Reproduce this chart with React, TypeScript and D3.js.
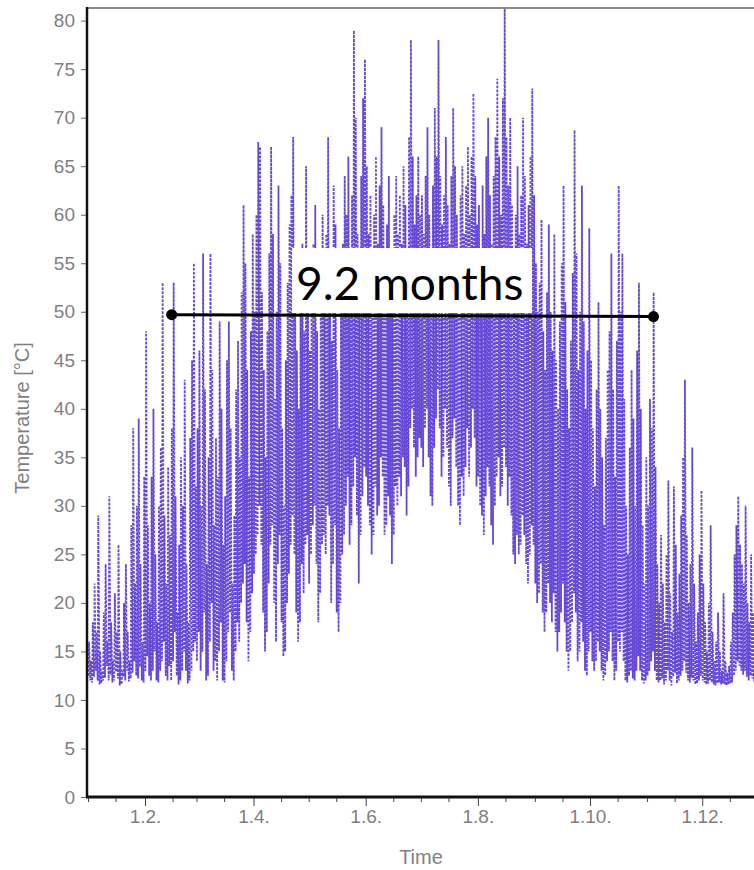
import React, { useEffect, useRef } from 'react';
import * as d3 from 'd3';

// daily maximum / minimum temperature [°C]
const janMax = [16, 14, 18, 22, 17, 29, 15, 13, 19, 24, 16, 31, 18, 14, 21, 17, 26, 15, 13, 20, 24, 17, 14, 28, 38, 22, 30, 39, 24, 16, 33];
const janMin = [12.5, 12, 11.8, 12.4, 13, 12, 11.6, 11.7, 12, 12.3, 13.5, 12, 12.6, 11.8, 12, 12.9, 12.2, 11.5, 11.6, 12.4, 12, 13, 11.9, 12.2, 12.8, 14, 12.5, 12.2, 13.4, 12, 11.8];
const febMax = [48, 28, 20, 33, 40, 25, 18, 30, 36, 53, 29, 22, 34, 27, 38, 53, 31, 19, 26, 35, 30, 43, 24, 18, 37, 45, 55, 32];
const febMin = [13, 14.5, 12.5, 12, 13, 15, 12, 11.8, 13, 14, 16, 12.5, 12, 13.5, 12, 14, 17, 12.5, 11.6, 12, 13, 15, 13, 11.7, 12, 13, 15, 16];
const marMax = [38, 46, 30, 56, 42, 24, 35, 56, 44, 28, 37, 33, 49, 40, 26, 31, 45, 49, 38, 22, 29, 42, 47, 35, 52, 61, 55, 44, 33, 48, 58];
const marMin = [14, 17, 13, 15, 19, 12, 12.5, 16, 20, 13, 14, 12, 15, 18, 12, 11.8, 14, 17, 19, 13, 12, 15, 18, 16, 20, 22, 24, 18, 14, 17, 21];
const aprMax = [50, 60, 67.5, 67, 52, 44, 35, 48, 56, 67, 58, 41, 50, 63, 55, 38, 30, 45, 53, 59, 62, 68, 54, 46, 40, 51, 57, 48, 65, 55];
const aprMin = [23, 25, 27, 30, 26, 19, 15, 17, 22, 26, 28, 20, 16, 24, 27, 18, 14.5, 15, 20, 23, 26, 29, 25, 19, 16, 18, 24, 21, 26, 27];
const mayMax = [46, 52, 57, 61, 48, 40, 55, 60, 50, 58, 68, 56, 47, 63, 59, 44, 38, 52, 57, 64, 60, 66, 55, 62, 79, 70, 58, 50, 64, 72, 76];
const mayMin = [22, 25, 28, 30, 24, 18, 21, 26, 27, 25, 30, 29, 20, 24, 28, 19, 17, 20, 25, 27, 30, 33, 26, 28, 32, 35, 29, 22, 27, 31, 34];
const junMax = [65, 58, 62, 55, 60, 66, 57, 63, 69, 61, 54, 59, 64, 56, 52, 60, 64, 58, 62, 57, 65, 61, 55, 68, 78, 66, 59, 62, 66, 60];
const junMin = [33, 30, 28, 25, 27, 32, 29, 30, 35, 33, 27, 28, 31, 29, 24, 27, 32, 30, 33, 31, 35, 34, 29, 32, 38, 40, 36, 33, 35, 37];
const julMax = [62, 58, 64, 69, 60, 55, 63, 71, 66, 78, 64, 59, 62, 68, 61, 57, 64, 71, 65, 60, 56, 62, 65, 58, 63, 67, 60, 66, 72.5, 64, 59];
const julMin = [36, 34, 38, 40, 35, 31, 30, 36, 39, 42, 38, 33, 35, 40, 36, 32, 30, 37, 39, 34, 30, 28, 33, 31, 34, 38, 33, 36, 40, 37, 32];
const augMax = [61, 55, 63, 58, 66, 70, 62, 57, 64, 68, 74, 66, 60, 72, 81.5, 68, 63, 70, 61, 56, 60, 65, 58, 62, 70, 64, 57, 61, 66, 73, 62];
const augMin = [33, 30, 29, 27, 31, 34, 32, 28, 26, 30, 33, 35, 31, 32, 36, 34, 30, 33, 29, 25, 24, 27, 25, 26, 29, 27, 24, 22, 25, 28, 26];
const sepMax = [55, 50, 53, 59.5, 48, 44, 52, 59, 50, 46, 58, 45, 40, 49, 55, 63, 51, 42, 38, 47, 54, 68.7, 56, 44, 50, 63, 49, 40, 46, 58.6];
const sepMin = [22, 20, 21, 24, 19, 17, 19, 22, 20, 18, 21, 17, 15, 17, 19, 22, 18, 15, 13, 15, 18, 21, 19, 14, 15, 18, 16, 13, 12.5, 15];
const octMax = [45, 38, 32, 42, 51, 40, 35, 28, 37, 44, 48, 56, 42, 33, 47, 63, 50, 56, 41, 30, 25, 36, 44, 39, 30, 46, 53, 40, 28, 22, 35];
const octMin = [17, 14, 13, 14, 16, 15, 13, 12, 12.5, 14, 15, 17, 14, 12, 13, 16, 15, 17, 14, 12, 11.8, 12.5, 13, 12.2, 12, 13, 14.5, 13, 12, 11.7, 12];
const novMax = [30, 41, 38, 52, 34, 24, 20, 27, 22, 18, 25, 32.6, 21, 17, 32, 26, 19, 23, 29, 35, 43, 27, 20, 24, 36, 22, 16, 19, 25, 31.6];
const novMin = [12.5, 13, 14, 15, 13, 12, 11.8, 12, 12.2, 11.6, 12, 13, 12, 11.5, 12.4, 12.8, 11.7, 12, 12.5, 13, 14, 12.8, 12, 11.8, 12.3, 12, 11.6, 11.7, 12, 12.5];
const decMax = [22, 18, 15, 20, 28, 17, 14, 16, 19, 15, 13, 21, 14, 12.8, 13.5, 16, 19, 25, 28, 31, 26, 24, 22, 30, 20, 18, 25, 19, 15, 17, 21];
const decMin = [12, 11.8, 11.6, 11.7, 12, 11.8, 11.6, 11.5, 11.7, 11.8, 11.6, 11.7, 11.6, 11.5, 11.6, 11.7, 11.8, 12.5, 13, 14, 13.5, 13, 12.6, 13, 12.4, 12, 12.5, 12.2, 11.9, 12, 12.3];

const monthMax = [janMax, febMax, marMax, aprMax, mayMax, junMax, julMax, augMax, sepMax, octMax, novMax, decMax];
const monthMin = [janMin, febMin, marMin, aprMin, mayMin, junMin, julMin, augMin, sepMin, octMin, novMin, decMin];

const YEAR = 2010;
const yTicks = [0, 5, 10, 15, 20, 25, 30, 35, 40, 45, 50, 55, 60, 65, 70, 75, 80];
const labelledMonths = [2, 4, 6, 8, 10, 12];

// annotation: span above 50 °C
const spanLabel = '9.2 months';
const spanStart = new Date(Date.UTC(YEAR, 1, 15, 12));
const spanEnd = new Date(Date.UTC(YEAR, 10, 4, 12));
const spanValues = [49.7, 49.5];

const W = 754;
const H = 870;
const plotLeft = 88;
const plotTop = 8;
const plotBottom = 797;
const GREY = '#7f7f7f';
const FONT = '"Liberation Sans", Arial, sans-serif';

type Pt = { t: Date; v: number };

const points: Pt[] = [];
monthMax.forEach((maxs, m) => {
  maxs.forEach((mx, i) => {
    points.push({ t: new Date(Date.UTC(YEAR, m, i + 1, 6)), v: monthMin[m][i] });
    points.push({ t: new Date(Date.UTC(YEAR, m, i + 1, 14)), v: mx });
  });
});

const x = d3
  .scaleUtc()
  .domain([new Date(Date.UTC(YEAR, 0, 1)), new Date(Date.UTC(YEAR + 1, 0, 1))])
  .range([plotLeft, plotLeft + 1.839 * 365]);

const y = d3.scaleLinear().domain([0, 81.3]).range([plotBottom, plotTop]);

const line = d3
  .line<Pt>()
  .x((d) => x(d.t))
  .y((d) => y(d.v));

const xTickDates: Date[] = [];
for (let m = 0; m < 12; m++) {
  xTickDates.push(new Date(Date.UTC(YEAR, m, 1)));
  xTickDates.push(new Date(Date.UTC(YEAR, m, 16)));
}
const fmt = d3.utcFormat('%-d.%-m.');
const isMajor = (d: Date) => d.getUTCDate() === 1 && labelledMonths.includes(d.getUTCMonth() + 1);

const App = () => {
  const xAxisRef = useRef<SVGGElement>(null);
  const yAxisRef = useRef<SVGGElement>(null);

  useEffect(() => {
    const gx = d3.select(xAxisRef.current);
    gx.call(
      d3
        .axisBottom(x)
        .tickValues(xTickDates)
        .tickSize(4)
        .tickPadding(8)
        .tickFormat((d: any) => (isMajor(d) ? fmt(d) : ''))
    );
    gx.select('.domain').remove();
    gx.selectAll('.tick line')
      .attr('stroke', '#444')
      .attr('y2', (d: any) => (isMajor(d) ? 8 : 4));
    gx.selectAll('.tick text').attr('fill', GREY).attr('font-size', 19).attr('font-family', FONT);

    const gy = d3.select(yAxisRef.current);
    gy.call(d3.axisLeft(y).tickValues(yTicks).tickSize(5).tickPadding(6));
    gy.select('.domain').remove();
    gy.selectAll('.tick line').attr('stroke', '#666');
    gy.selectAll('.tick text').attr('fill', GREY).attr('font-size', 19).attr('font-family', FONT);
  }, []);

  return (
    <svg width={W} height={H} style={{ position: 'absolute', left: 0, top: 0, background: '#fff' }}>
      <defs>
        <clipPath id="plot-clip">
          <rect x={plotLeft} y={plotTop} width={W - plotLeft} height={plotBottom - plotTop} />
        </clipPath>
      </defs>
      <rect x={0} y={0} width={W} height={H} fill="#fff" />

      <g clipPath="url(#plot-clip)">
        <path
          d={line(points) ?? ''}
          fill="none"
          stroke="#5030d0"
          strokeWidth={1.8}
          strokeDasharray="2.6 1.4"
          strokeOpacity={0.88}
        />
      </g>

      {/* frame */}
      <line x1={plotLeft - 1} x2={W} y1={plotTop} y2={plotTop} stroke="#8c8c8c" strokeWidth={2} />
      <line x1={plotLeft - 1} x2={plotLeft - 1} y1={plotTop - 1} y2={plotBottom + 1} stroke="#111" strokeWidth={2.5} />
      <line x1={plotLeft - 2} x2={W} y1={plotBottom} y2={plotBottom} stroke="#111" strokeWidth={3} />

      <g ref={xAxisRef} transform={`translate(0,${plotBottom + 1})`} />
      <g ref={yAxisRef} transform={`translate(${plotLeft - 2},0)`} />

      <text x={421} y={864} textAnchor="middle" fill={GREY} fontSize={20} fontFamily={FONT}>
        Time
      </text>
      <text
        transform={`translate(29,418) rotate(-90)`}
        textAnchor="middle"
        fill={GREY}
        fontSize={20}
        fontFamily={FONT}
      >
        Temperature [°C]
      </text>

      {/* annotation */}
      <rect x={292} y={248} width={240} height={65} fill="#fff" />
      <text x={296} y={300} fontSize={46} fontFamily="Lato, 'Open Sans', sans-serif" fill="#000">
        {spanLabel}
      </text>
      <line
        x1={x(spanStart)}
        x2={x(spanEnd)}
        y1={y(spanValues[0])}
        y2={y(spanValues[1])}
        stroke="#000"
        strokeWidth={3}
      />
      <circle cx={x(spanStart)} cy={y(spanValues[0])} r={5.5} fill="#000" />
      <circle cx={x(spanEnd)} cy={y(spanValues[1])} r={5.5} fill="#000" />
    </svg>
  );
};

export default App;
